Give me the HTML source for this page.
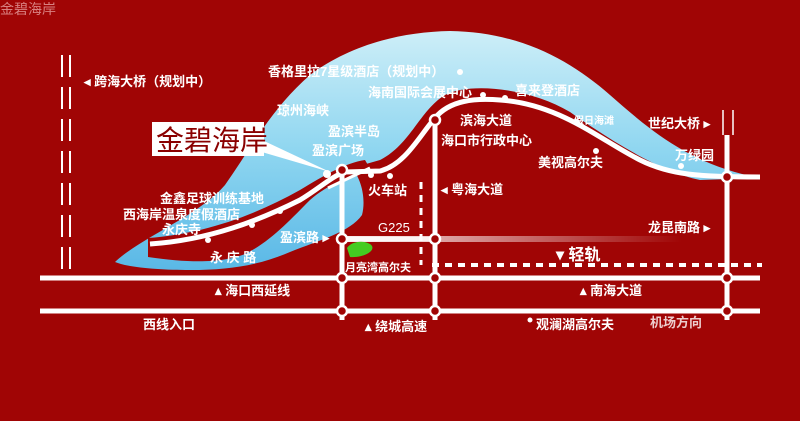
<!DOCTYPE html>
<html><head><meta charset="utf-8"><style>
html,body{margin:0;padding:0;background:#a00505;}
svg{display:block}
text{font-family:"Liberation Sans","Noto Sans CJK SC",sans-serif;fill:#fff;font-size:13px;font-weight:bold}
</style></head><body>
<svg width="800" height="421" viewBox="0 0 800 421" xmlns="http://www.w3.org/2000/svg">
<defs>
<linearGradient id="sea" x1="0" y1="0" x2="0" y2="1">
<stop offset="0" stop-color="#cdeef8"/><stop offset="0.5" stop-color="#8fd6f0"/><stop offset="1" stop-color="#5ab8e6"/>
</linearGradient>
<linearGradient id="fade" x1="0" y1="0" x2="1" y2="0">
<stop offset="0" stop-color="#fff" stop-opacity="0.9"/><stop offset="1" stop-color="#fff" stop-opacity="0"/>
</linearGradient>
</defs>
<rect width="800" height="421" fill="#a00505"/>
<text x="0" y="14" style="fill:#d88080;font-weight:normal;font-size:14px">金碧海岸</text>
<!-- sea -->
<path d="M115,262 C140,238 200,215 225,185 C250,150 270,110 310,75 C350,45 400,32 450,31 C520,32 570,60 610,95 C650,130 690,165 760,178 L700,180 C660,172 610,140 570,112 C530,88 470,82 445,95 C420,110 410,145 380,160 L352,168 C362,180 366,200 362,215 C350,232 320,240 290,252 C260,265 230,270 190,270 C160,270 130,268 115,262 Z" fill="url(#sea)"/>
<!-- red tongue -->
<path d="M148,238 C200,234 250,218 300,190 C325,175 345,163 365,160 L372,172 C350,176 328,184 310,200 C290,220 270,242 245,254 C225,262 195,264 148,257 Z" fill="#a00505"/>
<!-- left double dashed lines -->
<g stroke="#fff" stroke-width="2" stroke-dasharray="22,10">
<line x1="62" y1="55" x2="62" y2="272"/><line x1="70" y1="55" x2="70" y2="272"/>
</g>
<g stroke="#fff" stroke-width="1.5"><line x1="723" y1="110" x2="723" y2="135"/><line x1="733" y1="110" x2="733" y2="135"/></g>
<!-- main coast road -->
<path d="M150,244 C210,240 260,220 300,200 C320,188 332,176 345,172 L380,171 C405,165 420,135 435,118 C450,100 475,98 500,100 C560,104 600,140 640,160 C670,175 700,177 760,177" fill="none" stroke="#fff" stroke-width="5"/>
<path d="M328,188 L370,168" stroke="#fff" stroke-width="3"/>
<!-- roads -->
<g stroke="#fff" stroke-width="5" fill="none">
<line x1="40" y1="278" x2="760" y2="278"/>
<line x1="40" y1="311" x2="760" y2="311"/>
<line x1="342" y1="168" x2="342" y2="320"/>
<line x1="435" y1="118" x2="435" y2="320"/>
<line x1="727" y1="135" x2="727" y2="320"/>
</g>
<rect x="342" y="236" width="340" height="6" fill="url(#fade)"/>
<line x1="342" y1="239" x2="435" y2="239" stroke="#fff" stroke-width="5" opacity="0.85"/>
<line x1="421" y1="182" x2="421" y2="265" stroke="#fff" stroke-width="3" stroke-dasharray="7,6"/>
<line x1="432" y1="265" x2="762" y2="265" stroke="#fff" stroke-width="4" stroke-dasharray="7,6"/>
<!-- nodes -->
<g fill="#a00505" stroke="#fff" stroke-width="2.5">
<circle cx="342" cy="278" r="5"/><circle cx="435" cy="278" r="5"/><circle cx="727" cy="278" r="5"/>
<circle cx="342" cy="311" r="5"/><circle cx="435" cy="311" r="5"/><circle cx="727" cy="311" r="5"/>
<circle cx="342" cy="239" r="5"/><circle cx="435" cy="239" r="5"/>
<circle cx="342" cy="170" r="5"/><circle cx="435" cy="120" r="5"/><circle cx="727" cy="177" r="5"/>
</g>
<g fill="#fff">
<circle cx="327" cy="174" r="4"/><circle cx="371" cy="175" r="3"/><circle cx="390" cy="176" r="3"/>
<circle cx="280" cy="211" r="3"/><circle cx="252" cy="225" r="3"/><circle cx="208" cy="240" r="3"/>
<circle cx="460" cy="72" r="3"/><circle cx="483" cy="95" r="3"/><circle cx="505" cy="98" r="3"/>
<circle cx="577" cy="122" r="3"/><circle cx="596" cy="151" r="3"/><circle cx="681" cy="166" r="3"/>
<circle cx="530" cy="320" r="2.5"/>
</g>
<path d="M347,248 C352,240 368,240 372,246 C375,252 362,258 350,257 Z" fill="#44cc22"/>
<!-- title box -->
<path d="M255,150 L330,172 L262,140 Z" fill="#fff"/>
<rect x="152" y="122" width="112" height="34" fill="#fff"/>
<text x="156" y="150" style="fill:#8a0000;font-size:28px;font-weight:normal">金碧海岸</text>
<!-- labels -->
<text x="84" y="86">◂ 跨海大桥（规划中）</text>
<text x="268" y="76">香格里拉7星级酒店（规划中）</text>
<text x="368" y="97">海南国际会展中心</text>
<text x="515" y="95">喜来登酒店</text>
<text x="277" y="115">琼州海峡</text>
<text x="328" y="136">盈滨半岛</text>
<text x="312" y="155">盈滨广场</text>
<text x="460" y="125">滨海大道</text>
<text x="441" y="145">海口市行政中心</text>
<text x="574" y="124" style="font-size:10px">假日海滩</text>
<text x="538" y="167">美视高尔夫</text>
<text x="648" y="128">世纪大桥 ▸</text>
<text x="675" y="160">万绿园</text>
<text x="368" y="195">火车站</text>
<text x="441" y="194">◂ 粤海大道</text>
<text x="160" y="203">金鑫足球训练基地</text>
<text x="123" y="219">西海岸温泉度假酒店</text>
<text x="162" y="234">永庆寺</text>
<text x="210" y="262">永 庆 路</text>
<text x="280" y="242">盈滨路 ▸</text>
<text x="378" y="232" style="font-weight:normal">G225</text>
<text x="648" y="232">龙昆南路 ▸</text>
<text x="556" y="260" style="font-size:16px">▾ 轻轨</text>
<text x="345" y="271" style="font-size:11px">月亮湾高尔夫</text>
<text x="215" y="295">▴ 海口西延线</text>
<text x="580" y="295">▴ 南海大道</text>
<text x="143" y="329">西线入口</text>
<text x="365" y="331">▴ 绕城高速</text>
<text x="536" y="329">观澜湖高尔夫</text>
<text x="650" y="327" style="opacity:0.8">机场方向</text>
</svg>
</body></html>
